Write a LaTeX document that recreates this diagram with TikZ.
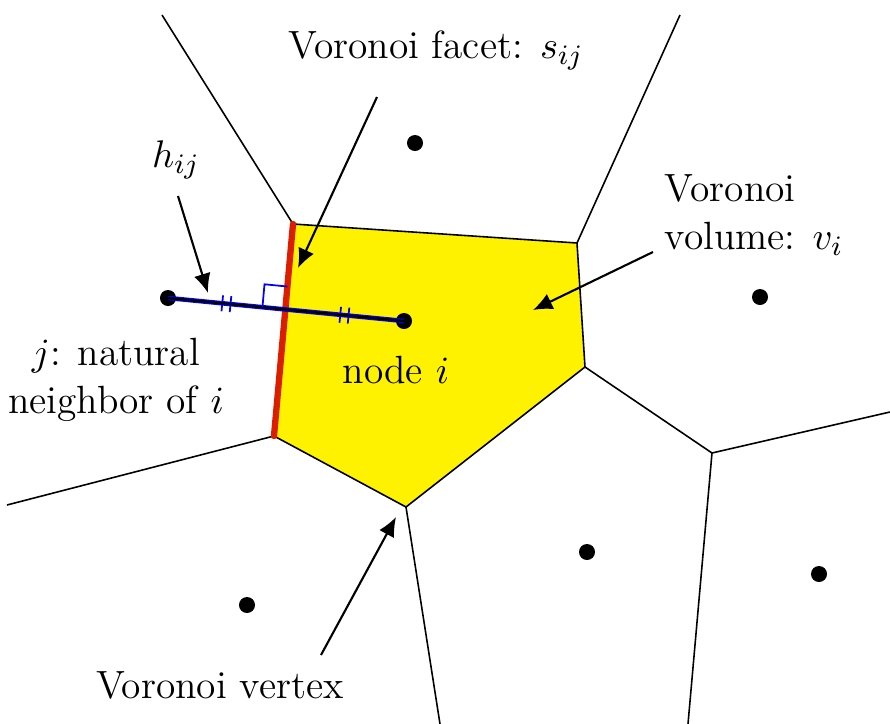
\documentclass[tikz,border=0pt]{standalone}
\usepackage{amsmath}
\usepackage{tikz}
\usetikzlibrary{calc, arrows.meta, decorations.markings}

\begin{document}
\begin{tikzpicture}[x=0.01cm, y=-0.01cm,
    every node/.style={font=\fontsize{11.2}{13.6}\selectfont},
    site/.style={circle, fill=black, inner sep=0pt, minimum size=0.16cm},
    cell/.style={draw=black, line width=0.45pt},
    facet/.style={draw={rgb,255:red,220;green,30;blue,0}, line width=1.8pt, line cap=round},
    pointer/.style={-{Latex[length=5.5pt, width=4.8pt]}, line width=0.6pt},
    hashes/.style={postaction={decorate, decoration={markings,
        mark=at position 0.23 with {\draw[blue, line width=0.5pt] (0,-8) -- (0,8);},
        mark=at position 0.265 with {\draw[blue, line width=0.5pt] (0,-8) -- (0,8);},
        mark=at position 0.73 with {\draw[blue, line width=0.5pt] (0,-8) -- (0,8);},
        mark=at position 0.765 with {\draw[blue, line width=0.5pt] (0,-8) -- (0,8);}}}}
]
\useasboundingbox (0,0) rectangle (890,724);

% Voronoi vertices
\coordinate (A) at (293,224);
\coordinate (B) at (577,243);
\coordinate (C) at (585,367);
\coordinate (D) at (406,507);
\coordinate (E) at (274,436);
\coordinate (F) at (712,453);

% cell of node i
\fill[yellow] (A) -- (B) -- (C) -- (D) -- (E) -- cycle;
\draw[cell] (E) -- (D) -- (C) -- (B) -- (A);

% remaining edges
\draw[cell] (A) -- (162,15);
\draw[cell] (B) -- (680,15);
\draw[cell] (C) -- (F);
\draw[cell] (F) -- (890,412);
\draw[cell] (F) -- (688,724);
\draw[cell] (D) -- (440,724);
\draw[cell] (E) -- (7,505);

% facet s_ij
\draw[facet] (A) -- (E);

% sites
\node[site] (i) at (404,321) {};
\node[site] (j) at (168,298) {};
\node[site] (s1) at (415,143) {};
\node[site] (s2) at (760,297) {};
\node[site] (s3) at (587,552) {};
\node[site] (s4) at (819,574) {};
\node[site] (s5) at (247,605) {};

% h_ij
\draw[blue, line width=1.3pt, hashes] (j.center) -- (i.center);
\draw[black, line width=0.7pt] (j.center) -- (i.center);
\coordinate (X) at (intersection of A--E and j--i);
\draw[blue, line width=0.5pt] ($(X)!0.23cm!(j)$) -- ($(X)!0.23cm!(j)+(X)!0.23cm!(A)-(X)$) -- ($(X)!0.23cm!(A)$);

% labels
\node (facetlab) at (436,50) {Voronoi facet: $s_{ij}$};
\node (hlab) at (176,160) {$h_{ij}$};
\node[align=left] (vollab) at (754,215) {Voronoi\\volume: $v_i$};
\node[align=center] (jlab) at (116,380) {$j$: natural\\neighbor of $i$};
\node (ilab) at (396,370) {node $i$};
\node (vertlab) at (220,685) {Voronoi vertex};

% pointers
\coordinate (ft) at (377,97);
\coordinate (fh) at (298,268);
\coordinate (ht) at (178,196);
\coordinate (hh) at (208,293);
\coordinate (vt) at (653,252);
\coordinate (vh) at (533,310);
\coordinate (xt) at (321,655);
\coordinate (xh) at (396,517);
\draw[pointer] (ft) -- (fh);
\draw[pointer] (ht) -- (hh);
\draw[pointer] (vt) -- (vh);
\draw[pointer] (xt) -- (xh);
\end{tikzpicture}
\end{document}
